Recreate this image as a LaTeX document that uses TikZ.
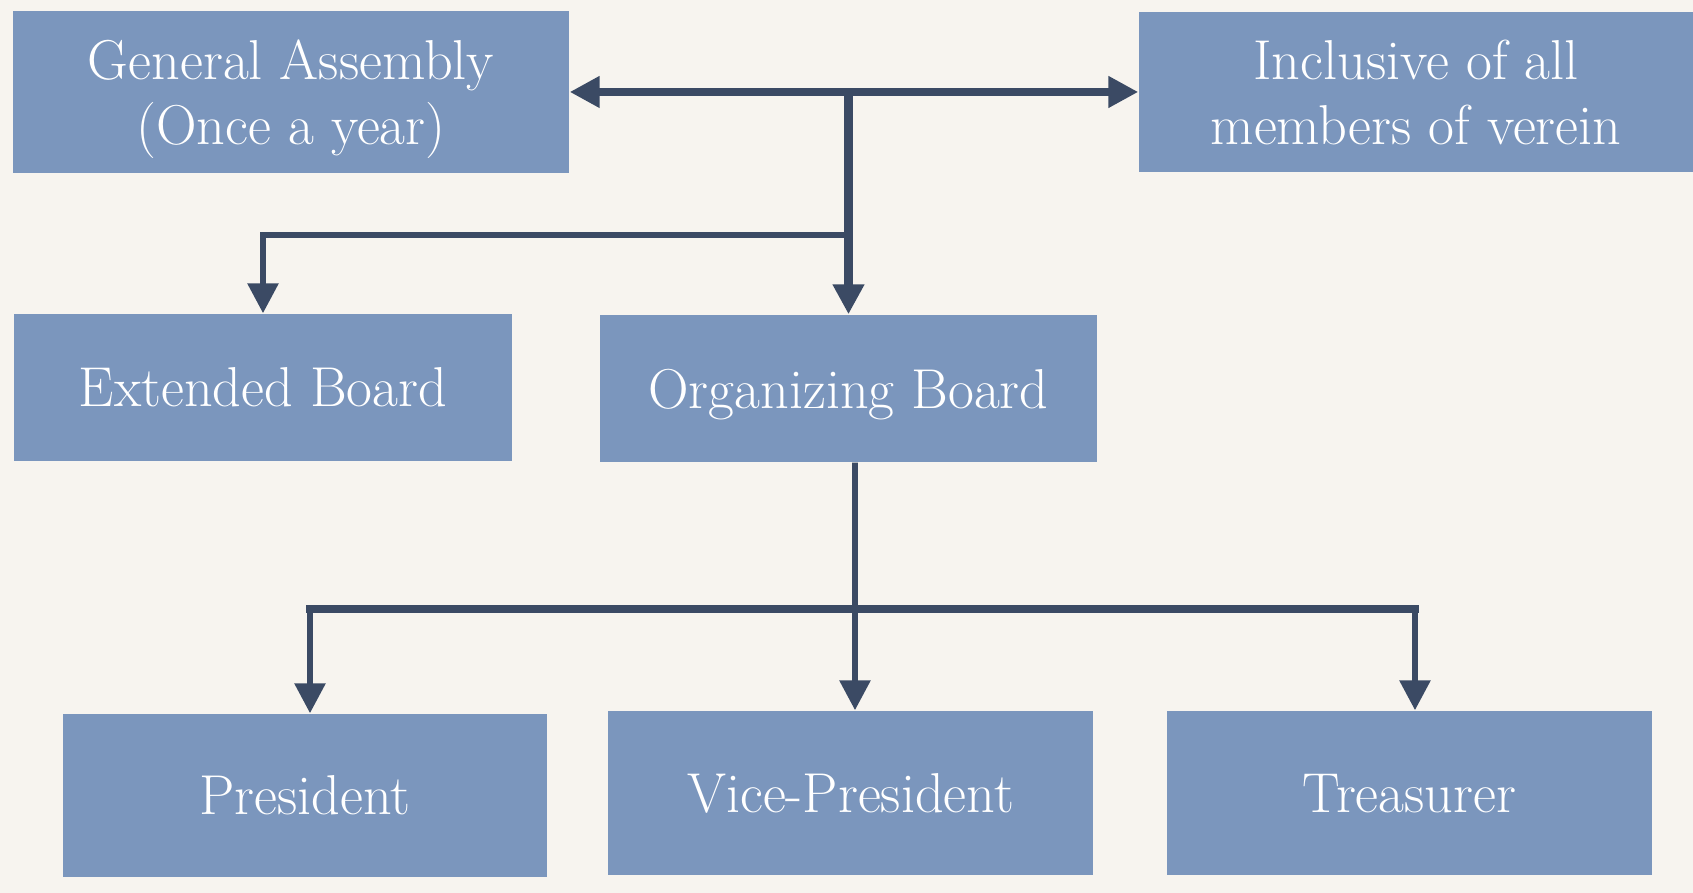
\documentclass[tikz,border=0pt]{standalone}
\usepackage{tikz}
\usepackage{xcolor}
\usetikzlibrary{arrows.meta}
\definecolor{paper}{HTML}{F7F4EF}
\definecolor{boxblue}{HTML}{7B96BD}
\definecolor{linknavy}{HTML}{3B4A64}

\begin{document}
\begin{tikzpicture}[box/.style={fill=boxblue, text=white, inner sep=0pt, text depth=0pt, align=center, font=\fontsize{16}{18.5}\selectfont},
    link/.style={linknavy, line width=1.7pt, -{Triangle[length=3mm, width=3mm]}}]
            \fill[paper] (0,0) rectangle (16.93,8.93);
            \node[box, minimum width=5.56cm, minimum height=1.62cm] (assembly) at (2.91,8.01) {General Assembly\\(Once a year)};
            \node[box, minimum width=5.54cm, minimum height=1.60cm] (members) at (14.16,8.01) {Inclusive of all\\members of verein};
            \node[box, minimum width=4.98cm, minimum height=1.47cm] (extended) at (2.63,5.055) {Extended Board};
            \node[box, minimum width=4.97cm, minimum height=1.47cm] (organizing) at (8.485,5.045) {Organizing Board};
            \node[box, minimum width=4.84cm, minimum height=1.63cm] (president) at (3.05,0.975) {President};
            \node[box, minimum width=4.85cm, minimum height=1.64cm] (vice) at (8.505,1.0) {Vice-President};
            \node[box, minimum width=4.85cm, minimum height=1.64cm] (treasurer) at (14.095,1.0) {Treasurer};
            \coordinate (hub) at (assembly.east -| organizing.north);
            \coordinate (split) at (8.485,6.58);
            \coordinate (fork) at (8.55,2.84);
            \coordinate (pres in) at ([xshift=.5mm]president.north);
            \coordinate (vice in) at ([xshift=.45mm]vice.north);
            \coordinate (treas in) at ([xshift=.55mm]treasurer.north);
            \draw[linknavy, line width=2.5pt, {Triangle[length=3mm, width=3mm]}-{Triangle[length=3mm, width=3mm]}] (assembly.east) -- (members.west);
            \draw[link, line width=2.3pt] (hub) -- (organizing.north);
            \draw[link] (split) -| (extended.north);
            \draw[linknavy, line width=1.7pt] ([xshift=.65mm]organizing.south) -- (fork);
            \draw[link] (fork) -- (vice in);
            \draw[link] (pres in |- fork) -- (pres in);
            \draw[link] (treas in |- fork) -- (treas in);
            \draw[linknavy, line width=2.3pt, line cap=rect] (pres in |- fork) -- (treas in |- fork);
        \end{tikzpicture}
\end{document}
